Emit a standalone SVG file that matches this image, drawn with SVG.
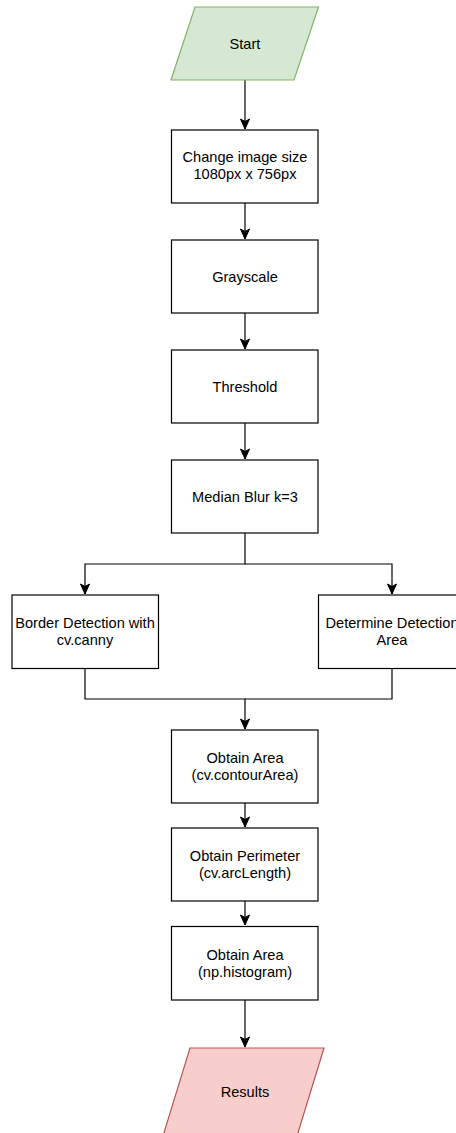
<svg xmlns="http://www.w3.org/2000/svg" width="456" height="1133" viewBox="0 0 456 1133">
<style>
.box{fill:#ffffff;stroke:#000000;stroke-width:1.2}
.start{fill:#d5e8d4;stroke:#82b366;stroke-width:1.2}
.end{fill:#f8cecc;stroke:#b85450;stroke-width:1.2}
.lbl{font-family:"Liberation Sans",Arial,Helvetica,sans-serif;font-size:14.6px;fill:#000000;text-anchor:middle}
.edge{fill:none;stroke:#000000;stroke-width:1.2}
</style>
<defs>
<marker id="arr" markerUnits="userSpaceOnUse" markerWidth="12" markerHeight="12" viewBox="0 0 12 12" refX="11" refY="6" orient="auto">
<path d="M1,1.5 L11,6 L1,10.5 L3.5,6 Z" fill="#000000" stroke="#000000" stroke-width="1"/>
</marker>
</defs>
<rect width="456" height="1133" fill="#ffffff"/>
<g id="connectors">
<path class="edge" d="M245,80 V129" marker-end="url(#arr)"/>
<path class="edge" d="M245,203 V239" marker-end="url(#arr)"/>
<path class="edge" d="M245,313 V349" marker-end="url(#arr)"/>
<path class="edge" d="M245,423 V459" marker-end="url(#arr)"/>
<path class="edge" d="M245,533 V564 H85 V594" marker-end="url(#arr)"/>
<path class="edge" d="M245,564 H392 V594" marker-end="url(#arr)"/>
<path class="edge" d="M85,669 V699 H245 V729" marker-end="url(#arr)"/>
<path class="edge" d="M392,669 V699 H245"/>
<path class="edge" d="M245,803 V827" marker-end="url(#arr)"/>
<path class="edge" d="M245,901 V925" marker-end="url(#arr)"/>
<path class="edge" d="M245,1000 V1047" marker-end="url(#arr)"/>
</g>
<g id="start">
<polygon class="start" points="195,7 318.5,7 294,80 171,80"/>
<text class="lbl" x="245" y="49">Start</text>
</g>
<g id="resize">
<rect class="box" x="171.5" y="130" width="146.5" height="73"/>
<text class="lbl" x="245" y="162">Change image size</text>
<text class="lbl" x="245" y="179">1080px x 756px</text>
</g>
<g id="grayscale">
<rect class="box" x="171.5" y="240" width="146.5" height="73"/>
<text class="lbl" x="245" y="282">Grayscale</text>
</g>
<g id="threshold">
<rect class="box" x="171.5" y="350" width="146.5" height="73"/>
<text class="lbl" x="245" y="392">Threshold</text>
</g>
<g id="median">
<rect class="box" x="171.5" y="460" width="146.5" height="73"/>
<text class="lbl" x="245" y="502">Median Blur k=3</text>
</g>
<g id="border">
<rect class="box" x="12" y="595" width="146.5" height="73.5"/>
<text class="lbl" x="85" y="628">Border Detection with</text>
<text class="lbl" x="85" y="645">cv.canny</text>
</g>
<g id="determine">
<rect class="box" x="318.5" y="595" width="146.5" height="73.5"/>
<text class="lbl" x="392" y="628">Determine Detection</text>
<text class="lbl" x="392" y="645">Area</text>
</g>
<g id="area1">
<rect class="box" x="171.5" y="730" width="146.5" height="73"/>
<text class="lbl" x="245" y="763">Obtain Area</text>
<text class="lbl" x="245" y="780">(cv.contourArea)</text>
</g>
<g id="perimeter">
<rect class="box" x="171.5" y="828" width="146.5" height="73"/>
<text class="lbl" x="245" y="861">Obtain Perimeter</text>
<text class="lbl" x="245" y="878">(cv.arcLength)</text>
</g>
<g id="area2">
<rect class="box" x="171.5" y="926.5" width="146.5" height="73.5"/>
<text class="lbl" x="245" y="960">Obtain Area</text>
<text class="lbl" x="245" y="977">(np.histogram)</text>
</g>
<g id="results">
<polygon class="end" points="190,1048 324,1048 297,1136 163,1136"/>
<text class="lbl" x="245" y="1097">Results</text>
</g>
</svg>
